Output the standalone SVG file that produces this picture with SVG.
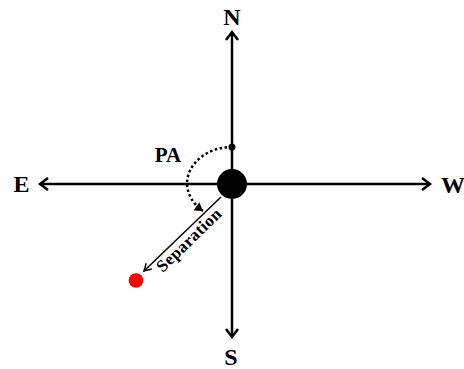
<svg xmlns="http://www.w3.org/2000/svg" width="464" height="369" viewBox="0 0 464 369">
<style>
.axis{stroke:#000;stroke-width:2.5;fill:none}
.lbl{font-family:"Liberation Serif","Times New Roman",serif;font-weight:bold;fill:#000}
.big{font-size:24px;text-anchor:middle}
</style>
<defs>
<marker id="ah" markerUnits="userSpaceOnUse" markerWidth="16" markerHeight="16" refX="11" refY="8" orient="auto">
<path d="M3,2 L11,8 L3,14" fill="none" stroke="#000" stroke-width="2.5"/>
</marker>
<marker id="ahs" markerUnits="userSpaceOnUse" markerWidth="12" markerHeight="12" refX="9" refY="6" orient="auto">
<path d="M2,2 L9,6 L2,10" fill="none" stroke="#000" stroke-width="1.5"/>
</marker>
<marker id="ahd" markerUnits="userSpaceOnUse" markerWidth="12" markerHeight="12" refX="9" refY="6" orient="auto">
<path d="M1,1 L9,6 L1,11 Z" fill="#000"/>
</marker>
</defs>
<g id="connectors">
<line class="axis" x1="232" y1="184" x2="232" y2="32" marker-end="url(#ah)"/>
<line class="axis" x1="232" y1="184" x2="232" y2="337" marker-end="url(#ah)"/>
<line class="axis" x1="232" y1="184" x2="40" y2="184" marker-end="url(#ah)"/>
<line class="axis" x1="232" y1="184" x2="430" y2="184" marker-end="url(#ah)"/>
<line x1="221" y1="197" x2="144" y2="271" stroke="#000" stroke-width="1.5" marker-end="url(#ahs)"/>
<path d="M232,147 A45,37 0 0 0 187,184 A45,37 0 0 0 203,211" fill="none" stroke="#000" stroke-width="2.5" stroke-dasharray="2.5 2.5" marker-end="url(#ahd)"/>
</g>
<g id="center"><circle cx="232" cy="184" r="15" fill="#000"/></g>
<g id="pa-point"><circle cx="232" cy="147" r="3.5" fill="#000"/></g>
<g id="target"><circle cx="136" cy="280.5" r="7.3" fill="#ff0000"/></g>
<g id="label-n"><text class="lbl big" x="232" y="25">N</text></g>
<g id="label-s"><text class="lbl big" x="231" y="365">S</text></g>
<g id="label-e"><text class="lbl big" x="21.5" y="192">E</text></g>
<g id="label-w"><text class="lbl big" x="453" y="193">W</text></g>
<g id="label-pa"><text class="lbl" x="168" y="162" font-size="21" text-anchor="middle">PA</text></g>
<g id="label-sep"><text class="lbl" transform="translate(189,240) rotate(-44)" x="0" y="5.5" font-size="17" letter-spacing="0.4" text-anchor="middle">Separation</text></g>
</svg>
